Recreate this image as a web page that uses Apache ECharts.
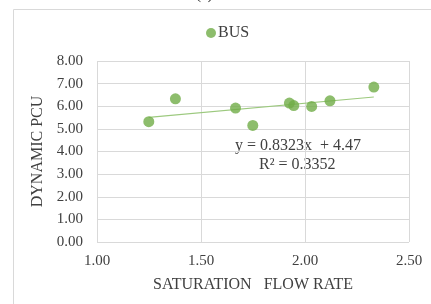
<!DOCTYPE html>
<html>
<head>
<meta charset="utf-8">
<script src="https://cdn.jsdelivr.net/npm/echarts@6/dist/echarts.min.js"></script>
<style>
  html, body { margin: 0; padding: 0; background: #fff; }
  #chart { width: 431px; height: 304px; }
</style>
</head>
<body>
<div id="chart"></div>
<script>
// saturation flow rate vs dynamic PCU (bus)
var busPoints = [
  [1.249, 5.32],
  [1.377, 6.33],
  [1.666, 5.92],
  [1.749, 5.15],
  [1.925, 6.14],
  [1.946, 6.03],
  [2.032, 5.99],
  [2.120, 6.24],
  [2.331, 6.85]
];
// linear trendline ends
var trendPoints = [
  [1.249, 5.51],
  [2.331, 6.41]
];
var trendLabel = 'y = 0.8323x  + 4.47';
var r2Label = 'R² = 0.3352';

var font = '"Liberation Serif", "Times New Roman", serif';
var textColor = '#404040';

var myChart = echarts.init(document.getElementById('chart'));
myChart.setOption({
  animation: false,
  textStyle: { fontFamily: font },
  grid: {
    left: 97,
    right: 22,
    top: 61,
    bottom: 62
  },
  legend: {
    data: [{ name: 'BUS', icon: 'circle' }],
    left: 201,
    top: 20,
    itemWidth: 10,
    itemHeight: 10,
    itemGap: 2,
    textStyle: { fontFamily: font, fontSize: 16, color: textColor, padding: [0, 0, 0, -3] }
  },
  xAxis: {
    type: 'value',
    min: 1,
    max: 2.5,
    interval: 0.5,
    name: 'SATURATION   FLOW RATE',
    nameLocation: 'middle',
    nameGap: 35,
    nameTextStyle: { fontFamily: font, fontSize: 16, color: textColor },
    axisLine: { show: false },
    axisTick: { show: false },
    axisLabel: {
      margin: 12,
      fontFamily: font,
      fontSize: 15,
      color: textColor,
      formatter: function (v) { return v.toFixed(2); }
    },
    splitLine: { show: true, lineStyle: { color: '#d9d9d9', width: 1 } }
  },
  yAxis: {
    type: 'value',
    min: 0,
    max: 8,
    interval: 1,
    name: 'DYNAMIC PCU',
    nameLocation: 'middle',
    nameGap: 47,
    nameTextStyle: { fontFamily: font, fontSize: 16, color: textColor },
    axisLine: { show: false },
    axisTick: { show: false },
    axisLabel: {
      margin: 14,
      fontFamily: font,
      fontSize: 15,
      color: textColor,
      formatter: function (v) { return v.toFixed(2); }
    },
    splitLine: { show: true, lineStyle: { color: '#d9d9d9', width: 1 } }
  },
  graphic: [
    {
      type: 'polyline',
      shape: { points: [[13.5, 304], [13.5, 9.5], [431, 9.5]] },
      style: { stroke: '#d9d9d9', lineWidth: 1, fill: null },
      silent: true
    },
    {
      type: 'text',
      left: 196,
      top: -12,
      style: { text: '(a)', font: '15px ' + font, fill: '#222' }
    },
    {
      type: 'text',
      left: 235,
      top: 138,
      style: { text: trendLabel, font: '16px ' + font, fill: textColor }
    },
    {
      type: 'text',
      left: 259,
      top: 157,
      style: { text: r2Label, font: '16px ' + font, fill: textColor }
    }
  ],
  series: [
    {
      name: 'trend',
      type: 'line',
      data: trendPoints,
      symbol: 'none',
      silent: true,
      lineStyle: { color: '#9cc97e', width: 1.2 },
      z: 1
    },
    {
      name: 'BUS',
      type: 'scatter',
      data: busPoints,
      symbolSize: 11,
      itemStyle: { color: '#70ad47' },
      z: 2
    }
  ]
});
</script>
</body>
</html>
